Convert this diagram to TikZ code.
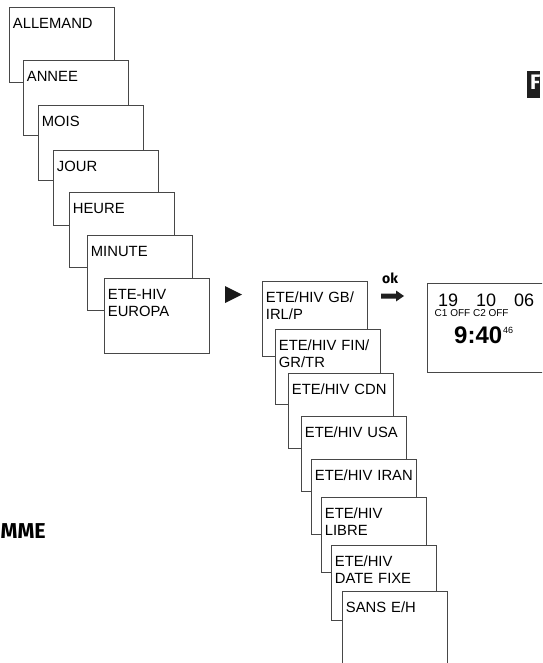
\documentclass[tikz,border=0pt]{standalone}
\usepackage{fontspec}
\setmainfont{Liberation Sans}
\newfontfamily\firabold{Fira Sans}[UprightFont=* Bold]
\begin{document}
\begin{tikzpicture}[x=1pt,y=-1pt,
  box/.style={draw=black!72, line width=0.8pt, fill=white, anchor=north west,
    inner xsep=3.5pt, inner ysep=0pt, text width=98pt, align=left,
    text height=21.5pt, text depth=53.5pt,
    font=\fontsize{14.8}{17}\selectfont},
  txt/.style={inner sep=0pt, anchor=base west}]
\useasboundingbox (0,0) rectangle (542,663);
\clip (0,0) rectangle (542,663);
% left column
\node[box] (b1) at (9,7) {ALLEMAND};
\node[box] (b2) at (23,60) {ANNEE};
\node[box] (b3) at (38,105) {MOIS};
\node[box] (b4) at (53,150) {JOUR};
\node[box] (b5) at (69,192) {HEURE};
\node[box] (b6) at (87,235) {MINUTE};
\node[box] (b7) at (104,278) {ETE-HIV\\EUROPA};
% triangle
\fill[black!90] (225,286) -- (242,294.5) -- (225,303) -- cycle;
% right column
\node[box] (c1) at (262,281) {ETE/HIV GB/\\IRL/P};
\node[box] (c2) at (275,329) {ETE/HIV FIN/\\GR/TR};
\node[box] (c3) at (288,373) {ETE/HIV CDN};
\node[box] (c4) at (301,416) {ETE/HIV USA};
\node[box] (c5) at (311,459) {ETE/HIV IRAN};
\node[box] (c6) at (321,497) {ETE/HIV\\LIBRE};
\node[box] (c7) at (331,545) {ETE/HIV\\DATE FIXE};
\node[box] (c8) at (342,591) {SANS E/H};
% ok arrow
\node[txt] (ok) at (382,283) {\firabold\fontsize{14}{14}\selectfont ok};
\fill[black!88] (381,293.5) -- (396,293.5) -- (396,290.5) -- (404,296) -- (396,301.5) -- (396,298.5) -- (381,298.5) -- cycle;
% display
\draw[draw=black!72, line width=0.8pt] (427,283) rectangle (570,372);
\node[txt] (d1) at (438,306) {\fontsize{18}{18}\selectfont 19};
\node[txt] (d2) at (476,306) {\fontsize{18}{18}\selectfont 10};
\node[txt] (d3) at (514,306) {\fontsize{18}{18}\selectfont 06};
\node[txt] (d4) at (434.5,316) {\fontsize{10}{10}\selectfont C1 OFF C2 OFF};
\node[txt] (d5) at (454,343) {\fontsize{24}{24}\selectfont\bfseries 9:40};
\node[txt] (d6) at (503,333) {\fontsize{9}{9}\selectfont 46};
% F tab
\fill[black!88] (527,71) rectangle (540,98);
\node[txt, text=white] (F) at (530,90) {\firabold\fontsize{21}{21}\selectfont F};
% MME
\node[inner sep=0pt, anchor=base east] (mme) at (46,538) {\firabold\fontsize{21.5}{21.5}\selectfont MME};
\end{tikzpicture}
\end{document}
